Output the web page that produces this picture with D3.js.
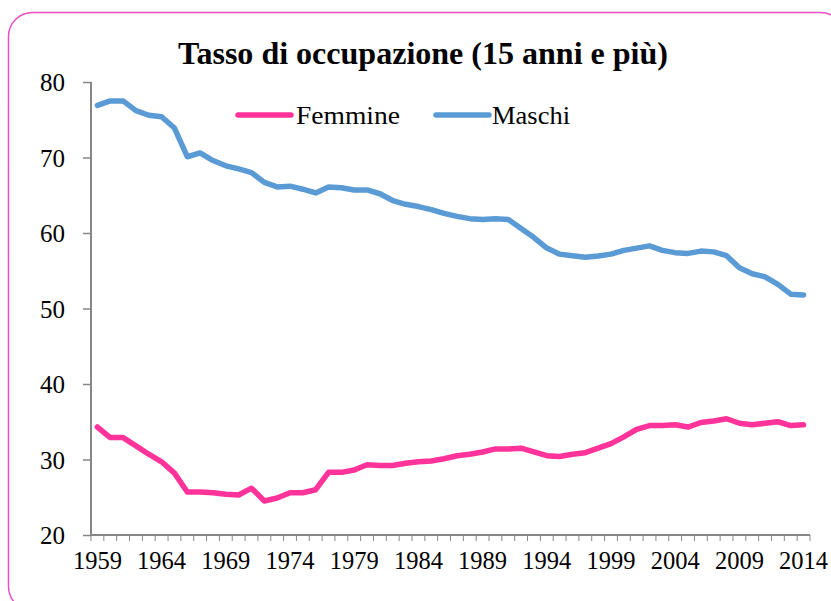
<!DOCTYPE html>
<html>
<head>
<meta charset="utf-8">
<script src="https://cdn.jsdelivr.net/npm/d3@7"></script>
<style>
  html, body { margin: 0; padding: 0; background: #fff; }
  svg { display: block; }
  text { font-family: "Liberation Serif", "DejaVu Serif", serif; fill: #000; }
</style>
</head>
<body>
<svg id="chart" width="831" height="601"></svg>
<script>
const years = d3.range(1959, 2015);
const femmine = [34.3, 32.9, 32.9, 31.8, 30.7, 29.7, 28.2, 25.7, 25.7, 25.6,
  25.4, 25.3, 26.2, 24.5, 24.9, 25.6, 25.6, 26.0, 28.3, 28.3,
  28.6, 29.3, 29.2, 29.2, 29.5, 29.7, 29.8, 30.1, 30.5, 30.7,
  31.0, 31.4, 31.4, 31.5, 31.0, 30.5, 30.4, 30.7, 30.9, 31.5,
  32.1, 33.0, 34.0, 34.5, 34.5, 34.6, 34.3, 34.9, 35.1, 35.4,
  34.8, 34.6, 34.8, 35.0, 34.5, 34.6];
const maschi = [76.9, 77.5, 77.5, 76.2, 75.6, 75.4, 73.9, 70.1, 70.6, 69.6,
  68.9, 68.5, 68.0, 66.7, 66.1, 66.2, 65.8, 65.3, 66.1, 66.0,
  65.7, 65.7, 65.2, 64.3, 63.8, 63.5, 63.1, 62.6, 62.2, 61.9,
  61.8, 61.9, 61.8, 60.6, 59.4, 58.0, 57.2, 57.0, 56.8, 56.95,
  57.2, 57.7, 58.0, 58.3, 57.7, 57.4, 57.3, 57.6, 57.5, 57.0,
  55.4, 54.6, 54.2, 53.2, 51.9, 51.8];
const yTicks = [20, 30, 40, 50, 60, 70, 80];
const xTickLabels = [1959, 1964, 1969, 1974, 1979, 1984, 1989, 1994, 1999, 2004, 2009, 2014];
const seriesNames = ["Femmine", "Maschi"];
const colors = ["#FF3399", "#5B9BD5"];
const title = "Tasso di occupazione (15 anni e più)";

const svg = d3.select("#chart");

// border
svg.append("rect")
  .attr("x", 8.5).attr("y", 12.5)
  .attr("width", 836).attr("height", 598)
  .attr("rx", 24).attr("ry", 24)
  .attr("fill", "#fff")
  .attr("stroke", "#E94FC4")
  .attr("stroke-width", 1.5);

const plotLeft = 91, plotRight = 810, plotTop = 82, plotBottom = 535;

const x = d3.scaleBand().domain(years).range([plotLeft, plotRight]);
const y = d3.scaleLinear().domain([20, 80]).range([plotBottom, plotTop]);

// title
svg.append("text")
  .attr("x", 423).attr("y", 64)
  .attr("text-anchor", "middle")
  .attr("font-size", 32)
  .attr("font-weight", "bold")
  .attr("textLength", 490)
  .attr("lengthAdjust", "spacingAndGlyphs")
  .text(title);

// y axis
const yAxis = svg.append("g")
  .attr("transform", `translate(${plotLeft},0)`)
  .call(d3.axisLeft(y).tickValues(yTicks).tickSize(8).tickPadding(18).tickFormat(d3.format("d")));
yAxis.selectAll("text").attr("font-size", 26).attr("dy", "0.34em")
  .attr("textLength", 25).attr("lengthAdjust", "spacingAndGlyphs")
  .style("font-family", '"Liberation Serif", serif');
yAxis.select(".domain").attr("stroke", "#868686").attr("stroke-width", 2)
  .attr("d", `M0,${plotTop}V${plotBottom}`);
yAxis.selectAll(".tick line").attr("stroke", "#868686").attr("stroke-width", 1.5);

// x axis
const xAxis = svg.append("g")
  .attr("transform", `translate(0,${plotBottom})`)
  .call(d3.axisBottom(x).tickValues(xTickLabels).tickSize(0).tickPadding(16).tickFormat(d3.format("d")));
xAxis.selectAll("text").attr("font-size", 26)
  .attr("textLength", 49).attr("lengthAdjust", "spacingAndGlyphs")
  .style("font-family", '"Liberation Serif", serif');
xAxis.select(".domain").attr("stroke", "#868686").attr("stroke-width", 2)
  .attr("d", `M${plotLeft},0H${plotRight}`);
// category separator ticks
const sepG = svg.append("g").attr("transform", `translate(0,${plotBottom})`);
const seps = years.map(d => x(d)).concat([plotRight]);
sepG.selectAll("line").data(seps).join("line")
  .attr("x1", d => d).attr("x2", d => d)
  .attr("y1", 0).attr("y2", 6)
  .attr("stroke", "#868686").attr("stroke-width", 1);

// lines
const line = d3.line()
  .x((d, i) => x(years[i]) + x.bandwidth() / 2)
  .y(d => y(d));

[femmine, maschi].forEach((data, k) => {
  svg.append("path")
    .datum(data)
    .attr("fill", "none")
    .attr("stroke", colors[k])
    .attr("stroke-width", 5.5)
    .attr("stroke-linejoin", "round")
    .attr("stroke-linecap", "round")
    .attr("d", line);
});

// legend
const legendItems = [
  { x0: 238, x1: 291, tx: 296, w: 104 },
  { x0: 436, x1: 489, tx: 492, w: 78 }
];
legendItems.forEach((it, k) => {
  svg.append("line")
    .attr("x1", it.x0).attr("x2", it.x1)
    .attr("y1", 115).attr("y2", 115)
    .attr("stroke", colors[k]).attr("stroke-width", 5.5)
    .attr("stroke-linecap", "round");
  svg.append("text")
    .attr("x", it.tx).attr("y", 124)
    .attr("font-size", 26)
    .attr("textLength", it.w).attr("lengthAdjust", "spacingAndGlyphs")
    .text(seriesNames[k]);
});
</script>
</body>
</html>
